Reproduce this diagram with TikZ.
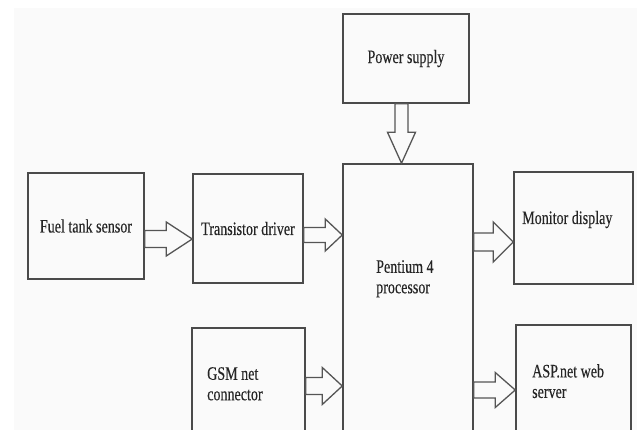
\documentclass[tikz,border=0pt]{standalone}
\usepackage{fontspec}
\setmainfont[FakeStretch=0.74,FakeBold=0.25]{Liberation Serif}
\usetikzlibrary{calc}
\definecolor{linegray}{HTML}{4A4A4A}
\definecolor{arrowgray}{HTML}{555555}
\definecolor{txtgray}{HTML}{252525}
\definecolor{bggray}{HTML}{FAFAFA}
% horizontal block arrow: #1 source point, #2 tip point, #3 shaft half width, #4 head half width, #5 head length
\newcommand\blockarrowright[5]{%
  \draw[blockarrow] let \p1=#1, \p2=#2 in
    (\x1,{\y1+#3pt}) -- ({\x2-#5pt},{\y1+#3pt}) -- ({\x2-#5pt},{\y1+#4pt}) -- (\x2,\y1)
    -- ({\x2-#5pt},{\y1-#4pt}) -- ({\x2-#5pt},{\y1-#3pt}) -- (\x1,{\y1-#3pt}) -- cycle;}
% vertical (downward) block arrow
\newcommand\blockarrowdown[5]{%
  \draw[blockarrow] let \p1=#1, \p2=#2 in
    ({\x1-#3pt},\y1) -- ({\x1-#3pt},{\y2+#5pt}) -- ({\x1-#4pt},{\y2+#5pt}) -- (\x1,\y2)
    -- ({\x1+#4pt},{\y2+#5pt}) -- ({\x1+#3pt},{\y2+#5pt}) -- ({\x1+#3pt},\y1) -- cycle;}
\begin{document}
\begin{tikzpicture}[x=1pt,y=-1pt,
  box/.style={draw=linegray, line width=1.5pt, inner sep=0pt, text=txtgray,
    font=\fontsize{19}{20.5}\selectfont},
  lbl/.style={inner sep=0pt, text=txtgray, font=\fontsize{19}{20.5}\selectfont},
  blockarrow/.style={draw=arrowgray, line width=1.3pt, line join=miter}]
\useasboundingbox (0,0) rectangle (637,430);
\fill[white] (0,0) rectangle (637,430);
\fill[bggray] (14,8) rectangle (637,430);
\clip (0,0) rectangle (637,430);

% boxes
\node[box, minimum width=126, minimum height=89] (power) at (406,58.5) {Power supply};
\node[box, minimum width=116, minimum height=106] (fuel) at (86,226) {Fuel tank sensor};
\node[box, minimum width=110, minimum height=109] (trans) at (248,228.5) {Transistor driver};
\node[box, minimum width=130, minimum height=281] (pent) at (408,304.5) {};
\node[box, minimum width=119, minimum height=112] (mon) at (573.5,228) {};
\node[box, minimum width=113, minimum height=117] (gsm) at (248.5,386.5) {};
\node[box, minimum width=115, minimum height=120] (asp) at (573.5,385) {};

% texts of the boxes
\node[lbl, anchor=base west] (montext) at (522,224) {Monitor display};
\node[lbl, anchor=north west, align=left] (penttext) at (376,260) {Pentium 4\\processor};
\node[lbl, anchor=north west, align=left] (gsmtext) at (207,367) {GSM net\\connector};
\node[lbl, anchor=north west, align=left] (asptext) at (532,364) {ASP.net web\\server};

% block arrows
\blockarrowright{(fuel.east |- 0,239)}{(trans.west |- 0,239)}{8.5}{17}{26}
\blockarrowright{(trans.east |- 0,235)}{(pent.west |- 0,235)}{7.5}{16}{17}
\blockarrowright{(pent.east |- 0,242)}{(mon.west |- 0,242)}{9}{20}{20}
\blockarrowright{(gsm.east |- 0,386)}{(pent.west |- 0,386)}{8.5}{18.5}{20}
\blockarrowright{(pent.east |- 0,390)}{(asp.west |- 0,390)}{8}{17.5}{20}
\blockarrowdown{(power.south -| 401.5,0)}{(pent.north -| 401.5,0)}{6.5}{14}{31}
\end{tikzpicture}
\end{document}
